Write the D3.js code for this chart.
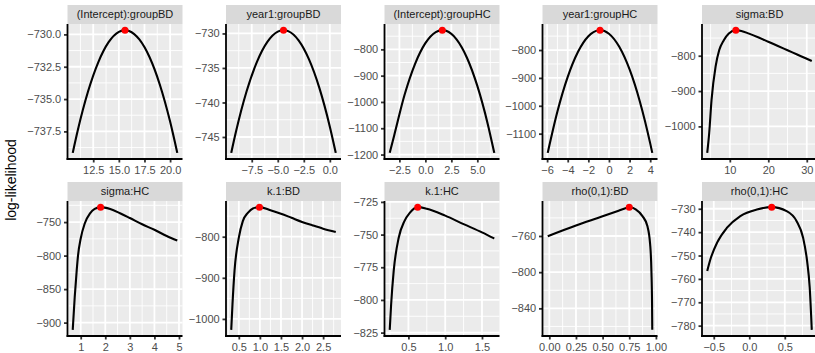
<!DOCTYPE html>
<html><head><meta charset="utf-8">
<script src="https://cdn.jsdelivr.net/npm/d3@7"></script>
<style>
body{margin:0;background:#fff}
svg{display:block}
text{font-family:"Liberation Sans",Arial,Helvetica,sans-serif}
</style>
</head><body>
<svg id="c" width="815" height="353"></svg>
<script>
// ---------- data ----------
const titles = ["(Intercept):groupBD","year1:groupBD","(Intercept):groupHC","year1:groupHC","sigma:BD",
                "sigma:HC","k.1:BD","k.1:HC","rho(0,1):BD","rho(0,1):HC"];

const xInterceptBD = [10.5, 11, 12, 13, 14, 15, 15.6, 16, 17, 18, 19, 20, 20.7];
const llInterceptBD = [-739.16, -737.39, -734.4, -732.14, -730.6, -729.8, -729.67, -729.73, -730.39, -731.77, -733.89, -736.74, -739.16];

const xYear1BD = [-9.47, -9, -8, -7, -6, -5, -4.45, -4, -3, -2, -1, 0, 0.57];
const llYear1BD = [-747.3, -744.14, -738.42, -734.11, -731.22, -729.73, -729.52, -729.66, -731.0, -733.76, -737.92, -743.5, -747.3];

const xInterceptHC = [-3.43, -3, -2, -1, 0, 1, 1.63, 2, 3, 4, 5, 6, 6.63];
const llInterceptHC = [-1193.6, -1127.2, -972.9, -856.0, -776.5, -734.3, -726.9, -729.5, -761.9, -831.8, -939.0, -1083.4, -1193.6];

const xYear1HC = [-5.94, -5, -4, -3, -2, -1, -0.87, 0, 1, 2, 3, 4, 4.2];
const llYear1HC = [-1168.9, -1020.8, -896.4, -806.3, -750.5, -728.9, -728.6, -741.6, -788.5, -869.7, -985.2, -1134.9, -1168.9];

const xSigmaBD = [4.13, 4.65, 5.25, 6.3, 7.25, 8.44, 9.74, 11.56, 13, 15, 17.5, 20, 22.5, 25, 27.5, 30, 31.3];
const llSigmaBD = [-1074.9, -1018, -925, -831, -784, -756, -737, -727.6, -729.8, -737.5, -748.5, -760.6, -772.5, -784.5, -796.5, -808.5, -814.9];

const xSigmaHC = [0.675, 0.756, 0.837, 0.89, 1.0, 1.16, 1.38, 1.57, 1.81, 2.2, 2.6, 3.0, 3.5, 4.0, 4.5, 4.93];
const llSigmaHC = [-910.8, -862, -822, -800, -774.5, -752.5, -737, -730.4, -727.7, -730.6, -736.8, -744, -753.3, -761.5, -770.7, -777.5];

const xK1BD = [0.32, 0.35, 0.398, 0.5, 0.595, 0.714, 0.833, 0.99, 1.25, 1.5, 1.75, 2.0, 2.25, 2.5, 2.8];
const llK1BD = [-1026.6, -963.9, -883, -802.4, -762, -741.9, -731.2, -728.1, -735.5, -744, -754, -764, -772.5, -780.5, -788.6];

const xK1HC = [0.246, 0.265, 0.30, 0.368, 0.446, 0.518, 0.626, 0.75, 1.0, 1.25, 1.5, 1.667];
const llK1HC = [-822.9, -803.5, -777.8, -752.4, -739.7, -733.4, -729.0, -730.2, -735.5, -742, -748.3, -753];

const xRhoBD = [-0.015, 0.25, 0.5, 0.65, 0.72, 0.75, 0.78, 0.81, 0.874, 0.92, 0.946, 0.958, 0.964, 0.966];
const llRhoBD = [-760.3, -748.5, -738.3, -732, -729, -728.1, -728.7, -730.6, -738, -749, -769.2, -798.9, -835.6, -863.8];

const xRhoHC = [-0.592, -0.546, -0.453, -0.313, -0.126, 0.107, 0.316, 0.526, 0.665, 0.758, 0.814, 0.851, 0.88];
const llRhoHC = [-756.6, -751.5, -744.5, -738.1, -733.1, -730.3, -729.3, -731, -735.2, -742.4, -752.3, -763.7, -781.8];

const mleX  = [15.6, -4.45, 1.63, -0.87, 11.56, 1.81, 0.99, 0.626, 0.75, 0.316];
const mleLL = [-729.67, -729.52, -726.9, -728.6, -727.6, -727.7, -728.1, -729.0, -728.1, -729.3];

const xTicks = [
  [12.5, 15, 17.5, 20], [-7.5, -5, -2.5, 0], [-2.5, 0, 2.5, 5], [-6, -4, -2, 0, 2, 4], [10, 20, 30],
  [1, 2, 3, 4, 5], [0.5, 1, 1.5, 2, 2.5], [0.5, 1, 1.5], [0, 0.25, 0.5, 0.75, 1], [-0.5, 0, 0.5]
];
const yTicks = [
  [-737.5, -735, -732.5, -730], [-745, -740, -735, -730], [-1200, -1100, -1000, -900, -800],
  [-1100, -1000, -900, -800], [-1000, -900, -800],
  [-900, -850, -800, -750], [-1000, -900, -800], [-825, -800, -775, -750, -725],
  [-840, -800, -760], [-780, -770, -760, -750, -740, -730]
];
const xFmt = [".1f", ".1f", ".1f", "d", "d", "d", ".1f", ".1f", ".2f", ".1f"];
const yFmt = [".1f", "d", "d", "d", "d", "d", "d", "d", "d", "d"];

const yTitle = "log-likelihood";

// ---------- layout ----------
const colLeft = [67.5, 226, 384.5, 542.5, 702];
const rowTop = [5, 182];
const panelW = 115, panelH = 135, stripH = 19;
const tickLen = 3.5;

const locale = d3.formatLocale({decimal: ".", thousands: ",", grouping: [3], currency: ["$", ""], minus: "\u2212"});

const series = [
  [xInterceptBD, llInterceptBD], [xYear1BD, llYear1BD], [xInterceptHC, llInterceptHC], [xYear1HC, llYear1HC],
  [xSigmaBD, llSigmaBD], [xSigmaHC, llSigmaHC], [xK1BD, llK1BD], [xK1HC, llK1HC], [xRhoBD, llRhoBD], [xRhoHC, llRhoHC]
];

const svg = d3.select("#c");

function minors(ticks, dom) {
  const t = ticks.slice().sort((a, b) => a - b);
  const s = t[1] - t[0];
  const lo = Math.min(dom[0], dom[1]), hi = Math.max(dom[0], dom[1]);
  const out = [];
  for (let v = t[0] - s / 2; v >= lo; v -= s) out.push(v);
  t.forEach(v => { if (v + s / 2 <= hi) out.push(v + s / 2); });
  return out.filter(v => v >= lo && v <= hi);
}

series.forEach(([xs, ys], i) => {
  const r = Math.floor(i / 5), c = i % 5;
  const g = svg.append("g").attr("transform", `translate(${colLeft[c]},${rowTop[r] + stripH})`);
  const xe = d3.extent(xs), ye = d3.extent(ys);
  const xp = (xe[1] - xe[0]) * 0.05, yp = (ye[1] - ye[0]) * 0.05;
  const x = d3.scaleLinear().domain([xe[0] - xp, xe[1] + xp]).range([0, panelW]);
  const y = d3.scaleLinear().domain([ye[0] - yp, ye[1] + yp]).range([panelH, 0]);

  // strip
  g.append("rect").attr("x", 0).attr("y", -stripH).attr("width", panelW).attr("height", stripH).attr("fill", "#D9D9D9");
  g.append("text").attr("x", panelW / 2).attr("y", -stripH / 2).attr("dy", "0.36em")
    .attr("text-anchor", "middle").attr("font-size", 11).attr("fill", "#1A1A1A").text(titles[i]);

  // panel
  g.append("rect").attr("width", panelW).attr("height", panelH).attr("fill", "#EBEBEB");
  const xMin = minors(xTicks[i], x.domain()), yMin = minors(yTicks[i], y.domain());
  g.selectAll(".vmin").data(xMin).join("line").attr("x1", d => x(d)).attr("x2", d => x(d))
    .attr("y1", 0).attr("y2", panelH).attr("stroke", "#fff").attr("stroke-width", 0.9);
  g.selectAll(".hmin").data(yMin).join("line").attr("y1", d => y(d)).attr("y2", d => y(d))
    .attr("x1", 0).attr("x2", panelW).attr("stroke", "#fff").attr("stroke-width", 0.9);
  g.selectAll(".vmaj").data(xTicks[i]).join("line").attr("x1", d => x(d)).attr("x2", d => x(d))
    .attr("y1", 0).attr("y2", panelH).attr("stroke", "#fff").attr("stroke-width", 1.8);
  g.selectAll(".hmaj").data(yTicks[i]).join("line").attr("y1", d => y(d)).attr("y2", d => y(d))
    .attr("x1", 0).attr("x2", panelW).attr("stroke", "#fff").attr("stroke-width", 1.8);

  // curve
  const pts = xs.map((v, k) => [v, ys[k]]);
  g.append("path").datum(pts)
    .attr("d", d3.line().x(d => x(d[0])).y(d => y(d[1])).curve(d3.curveMonotoneX))
    .attr("fill", "none").attr("stroke", "#000").attr("stroke-width", 2.1);
  g.append("circle").attr("cx", x(mleX[i])).attr("cy", y(mleLL[i])).attr("r", 3.5).attr("fill", "#FF0000");

  // axes
  const ax = g.append("g").attr("transform", `translate(0,${panelH})`)
    .call(d3.axisBottom(x).tickValues(xTicks[i]).tickFormat(locale.format(xFmt[i])).tickSize(tickLen).tickPadding(3.2));
  const ay = g.append("g")
    .call(d3.axisLeft(y).tickValues(yTicks[i]).tickFormat(locale.format(yFmt[i])).tickSize(tickLen).tickPadding(2.8));
  [ax, ay].forEach(a => {
    a.select(".domain").remove();
    a.selectAll(".tick line").attr("stroke", "#333").attr("stroke-width", 1.8);
    a.selectAll(".tick text").attr("fill", "#4D4D4D").attr("font-size", 11)
      .attr("font-family", '"Liberation Sans",Arial,Helvetica,sans-serif');
  });
  g.append("line").attr("x1", 0).attr("x2", 0).attr("y1", 0).attr("y2", panelH + 0.9)
    .attr("stroke", "#000").attr("stroke-width", 1.8);
  g.append("line").attr("x1", -0.9).attr("x2", panelW).attr("y1", panelH).attr("y2", panelH)
    .attr("stroke", "#000").attr("stroke-width", 1.8);
});

svg.append("text").attr("transform", `translate(15.5,${(rowTop[0] + stripH + rowTop[1] + stripH + panelH) / 2}) rotate(-90)`)
  .attr("text-anchor", "middle").attr("font-size", 14).attr("fill", "#000").text(yTitle);
</script>
</body></html>
